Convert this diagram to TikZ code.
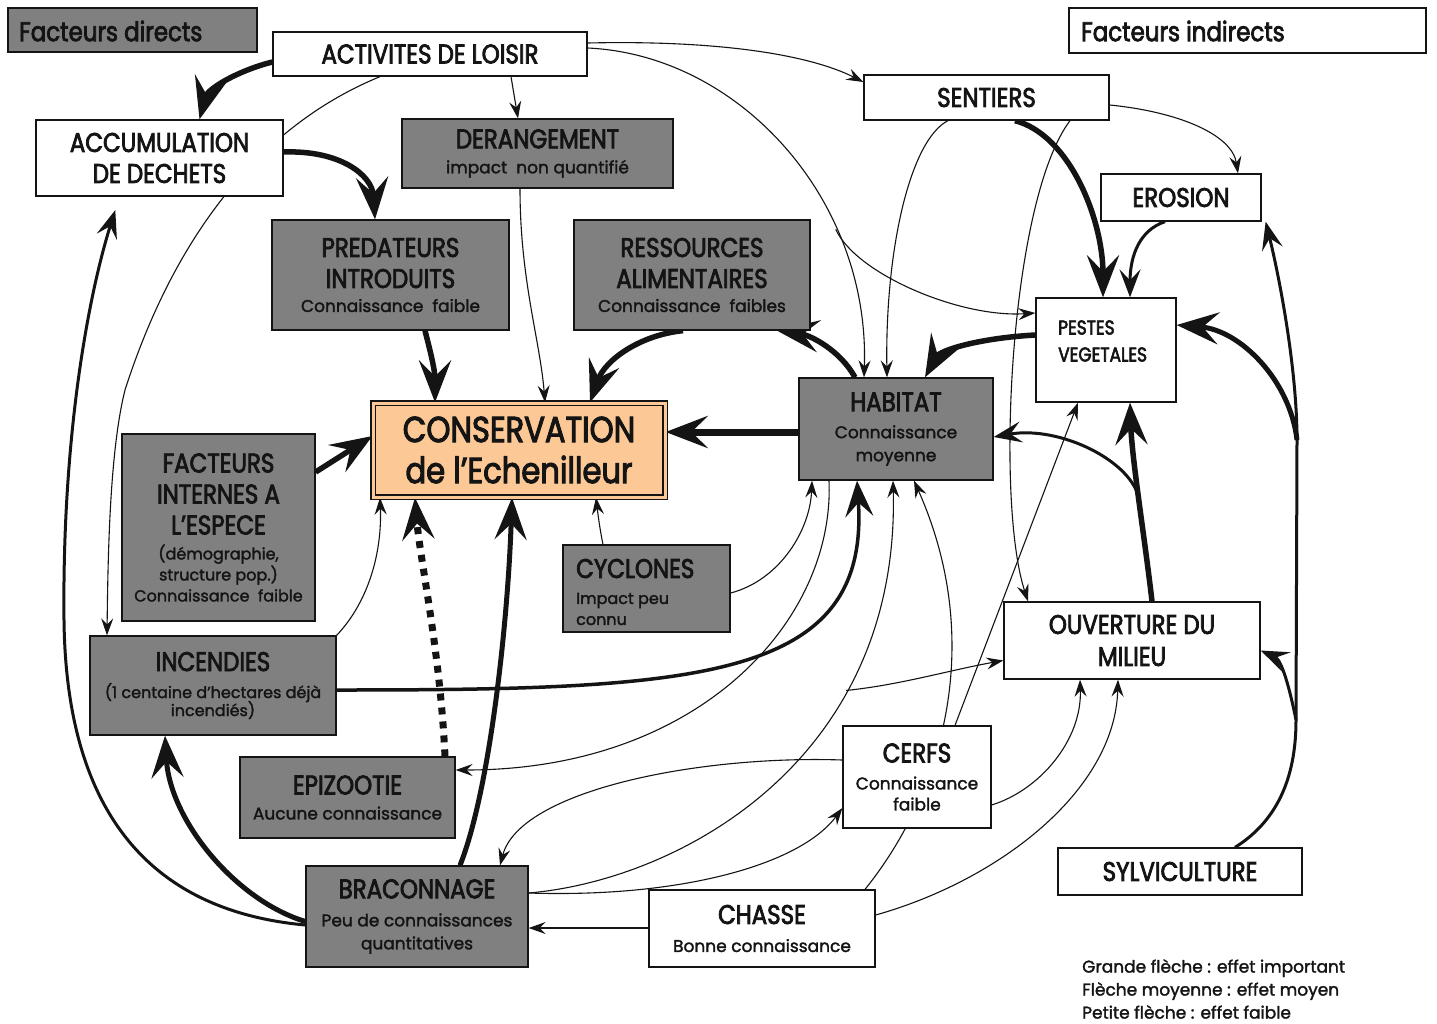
\documentclass[tikz,border=0pt]{standalone}
\usepackage{fontspec}
\setmainfont{Poppins}[FakeBold=1.8]
\newfontfamily\ttlfont[FakeStretch=0.85,FakeBold=2.8]{Poppins}
\newcommand\TTf{\fontsize{27}{32}\ttlfont}
\newcommand\SSf{\fontsize{17}{21}\selectfont}
\newcommand\SSs{\fontsize{16}{19}\selectfont}
\usetikzlibrary{arrows.meta,backgrounds,calc}
\definecolor{boxgray}{RGB}{128,128,128}
\definecolor{consor}{RGB}{251,200,150}
\definecolor{ink}{RGB}{20,20,20}
\begin{document}
\begin{tikzpicture}[x=1pt,y=-1pt,font=\SSf,
  nbox/.style={rectangle, draw=ink, line width=1.3pt, inner sep=0pt, align=center, text=ink, font=\SSf},
  gbox/.style={nbox, fill=boxgray},
  wbox/.style={nbox, fill=white},
  lbl/.style={anchor=west, align=left, text=ink, inner sep=0pt},
  thinA/.style={draw=ink, line width=1.1pt, -{Stealth[length=17pt,width=12pt,inset=6pt]}},
  medA/.style={draw=ink, line width=3pt, -{Stealth[length=28pt,width=21pt,inset=11pt]}},
  bigA/.style={draw=ink, line width=5.5pt, -{Stealth[length=42pt,width=32pt,inset=16pt]}},
  dotA/.style={draw=ink, line width=7pt, dash pattern=on 7pt off 7pt, -{Stealth[length=42pt,width=32pt,inset=16pt]}}
]
\useasboundingbox (0,0) rectangle (1437,1023);

% ---------- nodes ----------
\node[gbox, minimum width=249pt, minimum height=44pt] (fd) at (132.5,30) {};
\node[lbl, font=\TTf] (fdt) at (19,31) {Facteurs directs};
\node[wbox, minimum width=357pt, minimum height=45pt] (fi) at (1247.5,30.5) {};
\node[lbl, font=\TTf] (fit) at (1081,31) {Facteurs indirects};

\node[wbox, minimum width=314pt, minimum height=44pt] (act) at (430,54) {\TTf ACTIVITES DE LOISIR};
\node[wbox, minimum width=245pt, minimum height=45pt] (sent) at (986.5,97.5) {\TTf SENTIERS};
\node[wbox, minimum width=247pt, minimum height=76pt] (accum) at (159.5,158) {{\TTf ACCUMULATION}\\[10pt]{\TTf DE DECHETS}};
\node[gbox, minimum width=271pt, minimum height=69pt] (der) at (537.5,153.5) {{\TTf DERANGEMENT}\\[4pt]impact\ \ non quantifié};
\node[wbox, minimum width=160pt, minimum height=47pt] (eros) at (1181,197.5) {\TTf EROSION};
\node[gbox, minimum width=237pt, minimum height=110pt] (pred) at (390.5,275) {{\TTf PREDATEURS}\\[10pt]{\TTf INTRODUITS}\\[3pt]Connaissance\ \ faible};
\node[gbox, minimum width=236pt, minimum height=110pt] (ress) at (692,275) {{\TTf RESSOURCES}\\[10pt]{\TTf ALIMENTAIRES}\\[3pt]Connaissance\ \ faibles};
\node[wbox, minimum width=140pt, minimum height=104pt] (pest) at (1106,350) {};
\node[lbl, font=\fontsize{20}{27}\ttlfont] (pestt) at (1058,341) {PESTES\\VEGETALES};
\node[draw=ink, line width=1.2pt, double=consor, double distance=3pt, fill=consor,
      minimum width=292pt, minimum height=94pt, align=center, inner sep=0pt, text=ink,
      font=\fontsize{36}{41}\ttlfont] (cons) at (519,450) {CONSERVATION\\de l’Echenilleur};
\node[gbox, minimum width=194pt, minimum height=102pt] (hab) at (896,429) {{\TTf HABITAT}\\[6pt]Connaissance\\[2pt]moyenne};
\node[gbox, minimum width=193pt, minimum height=187pt] (fact) at (218.5,527.5) {{\TTf FACTEURS}\\[10pt]{\TTf INTERNES A}\\[10pt]{\TTf L’ESPECE}\\[4pt]{\SSs (démographie,}\\{\SSs structure pop.)}\\{\SSs Connaissance\ \ faible}};
\node[gbox, minimum width=167pt, minimum height=87pt] (cyc) at (646.5,588.5) {};
\node[lbl] (cyct) at (576,592) {{\TTf CYCLONES}\\[5pt]{\SSs Impact peu}\\{\SSs connu}};
\node[gbox, minimum width=246pt, minimum height=99pt] (inc) at (213,685.5) {{\TTf INCENDIES}\\[6pt]{\SSs (1 centaine d’hectares déjà}\\[-3pt]{\SSs incendiés)}};
\node[wbox, minimum width=256pt, minimum height=77pt] (ouv) at (1132,640.5) {{\TTf OUVERTURE DU}\\[11pt]{\TTf MILIEU}};
\node[gbox, minimum width=215pt, minimum height=81pt] (epi) at (347.5,797.5) {{\TTf EPIZOOTIE}\\[4pt]Aucune connaissance};
\node[wbox, minimum width=148pt, minimum height=102pt] (cerfs) at (917,777) {{\TTf CERFS}\\[6pt]Connaissance\\faible};
\node[wbox, minimum width=244pt, minimum height=47pt] (sylv) at (1180,871.5) {\TTf SYLVICULTURE};
\node[gbox, minimum width=222pt, minimum height=101pt] (brac) at (417,916.5) {{\TTf BRACONNAGE}\\[7pt]Peu de connaissances\\[2pt]quantitatives};
\node[wbox, minimum width=226pt, minimum height=77pt] (chasse) at (762,928.5) {{\TTf CHASSE}\\[7pt]Bonne connaissance};
\node[lbl, font=\fontsize{17}{23}\selectfont] (leg) at (1082,989) {Grande flèche : effet important\\Flèche moyenne : effet moyen\\Petite flèche : effet faible};

% ---------- connectors ----------
\begin{pgfonlayer}{background}
\fill[white] (0,0) rectangle (1437,1023);
\draw[bigA] ([yshift=-8pt]act.west) .. controls (240,70) and (208,88) .. ([xshift=40pt]accum.north);
\draw[thinA] ([xshift=81pt]act.south) -- ([xshift=-19.5pt]der.north);
\draw[thinA] ([yshift=11pt]act.east) .. controls (720,40) and (810,55) .. ([yshift=15.5pt]sent.west);
\draw[thinA] ([yshift=6pt]act.east) .. controls (740,55) and (870,200) .. ([xshift=-32pt]hab.north) coordinate[pos=0.7] (bp1);
\draw[thinA] (bp1) .. controls (856,274) and (960,318) .. ([yshift=37pt]pest.west);
\draw[thinA] ([xshift=-50pt]act.south) .. controls (250,130) and (170,250) .. (125,390)
   .. controls (110,450) and (108,550) .. ([xshift=-106pt]inc.north);
\draw[bigA] ([yshift=6pt]accum.east) .. controls (340,150) and (372,175) .. ([xshift=-15.5pt]pred.north);
\draw[thinA] ([xshift=-17.5pt]der.south) .. controls (520,280) and (540,340) .. ([xshift=26pt]cons.north);
\draw[bigA] ([xshift=34.5pt]pred.south) .. controls (430,350) and (435,370) .. ([xshift=-84pt]cons.north);
\draw[bigA] ([xshift=-9pt]ress.south) .. controls (640,335) and (605,360) .. ([xshift=71pt]cons.north);
\draw[bigA, line width=7pt] ([yshift=-3pt]hab.west) -- ([yshift=18pt]cons.east);
\draw[bigA] ([xshift=-41pt]hab.north) .. controls (840,350) and (810,335) .. ([xshift=85pt]ress.south);
\draw[bigA] ([yshift=15pt]pest.west) .. controls (980,338) and (940,350) .. ([xshift=29pt]hab.north);
\draw[bigA] ([xshift=28.5pt]sent.south) .. controls (1070,135) and (1103,220) .. ([xshift=-3pt]pest.north);
\draw[thinA] ([yshift=-7.5pt]sent.east) .. controls (1180,112) and (1232,135) .. ([xshift=57pt]eros.north);
\draw[medA] ([xshift=-16pt]eros.south) .. controls (1140,230) and (1130,255) .. ([xshift=24pt]pest.north);
\draw[thinA] ([xshift=-38.5pt]sent.south) .. controls (910,140) and (885,250) .. ([xshift=-9pt]hab.north);
\draw[thinA] ([xshift=83.5pt]sent.south) .. controls (1010,200) and (995,500) .. ([xshift=-104pt]ouv.north);
\draw[bigA] ([xshift=20pt]ouv.north) .. controls (1145,540) and (1132,460) .. ([xshift=24pt]pest.south) coordinate[pos=0.5] (bp2);
\draw[medA] (bp2) .. controls (1134,462) and (1060,425) .. ([yshift=-8pt]hab.east);
\draw[medA] ([xshift=55pt]sylv.north) .. controls (1282,818) and (1296,770) .. (1296,720) coordinate (bp3)
   -- (1297,440) coordinate (bp4) .. controls (1297,370) and (1280,280) .. ([xshift=4pt]eros.south east);
\draw[bigA, line width=5pt] (bp4) .. controls (1290,380) and (1240,330) .. ([yshift=25pt]pest.east);
\draw[medA] (bp3) .. controls (1290,690) and (1282,660) .. ([yshift=-10pt]ouv.east);
\draw[thinA] ([yshift=-4.5pt]cyc.east) .. controls (780,580) and (810,530) .. ([xshift=-84pt]hab.south);
\draw[thinA] ([xshift=-43.5pt]cyc.north) .. controls (600,530) and (598,515) .. ([xshift=77pt]cons.south);
\draw[draw=ink, line width=3.5pt, -{Stealth[length=36pt,width=28pt,inset=14pt]}] ([yshift=-4.5pt]inc.east) .. controls (700,690) and (870,680) .. ([xshift=-39pt]hab.south);
\draw[thinA] (inc.north east) .. controls (370,600) and (382,550) .. ([xshift=-139pt]cons.south);
\draw[thinA] ([xshift=-67pt]hab.south) .. controls (835,620) and (700,770) .. ([yshift=27.5pt]epi.east);
\draw[thinA] ([yshift=23.5pt]brac.east) .. controls (680,880) and (900,760) .. ([xshift=-3pt]hab.south) coordinate[pos=0.7] (bp5);
\draw[thinA] (bp5) .. controls (900,685) and (950,670) .. ([yshift=-20pt]ouv.west);
\draw[thinA] ([yshift=17pt]cerfs.west) .. controls (700,755) and (520,790) .. ([xshift=83pt]brac.north);
\draw[thinA] ([yshift=23.5pt]brac.east) .. controls (680,898) and (800,865) .. ([yshift=-31pt]cerfs.west);
\draw[thinA] ([xshift=103pt]chasse.north) .. controls (945,790) and (985,640) .. ([xshift=18pt]hab.south);
\draw[thinA] ([xshift=38pt]cerfs.north) -- ([xshift=-28pt]pest.south);
\draw[thinA] ([yshift=-28pt]cerfs.east) .. controls (1040,790) and (1082,740) .. ([xshift=-52pt]ouv.south);
\draw[thinA] ([yshift=13.5pt]chasse.east) .. controls (1000,880) and (1115,790) .. ([xshift=-14pt]ouv.south);
\draw[thinA] ([yshift=0.5pt]chasse.west) -- ([yshift=-11.5pt]brac.east);
\draw[medA, shorten >=14pt] ([yshift=-8.5pt]brac.west) .. controls (140,910) and (66,800) .. (64,620)
   .. controls (62,430) and (90,290) .. ([xshift=-40pt]accum.south);
\draw[bigA, line width=5pt] ([yshift=-5pt]brac.west) .. controls (235,900) and (170,820) .. ([xshift=-48pt]inc.south);
\draw[bigA, line width=5pt] ([xshift=43pt]brac.north) .. controls (490,790) and (508,620) .. ([xshift=-7pt]cons.south);
\draw[dotA] ([xshift=97.5pt]epi.north) .. controls (440,650) and (420,560) .. ([xshift=-104pt]cons.south);
\draw[bigA] ([yshift=55.5pt]fact.east) -- ([yshift=14pt]cons.west);
\end{pgfonlayer}
\end{tikzpicture}
\end{document}
